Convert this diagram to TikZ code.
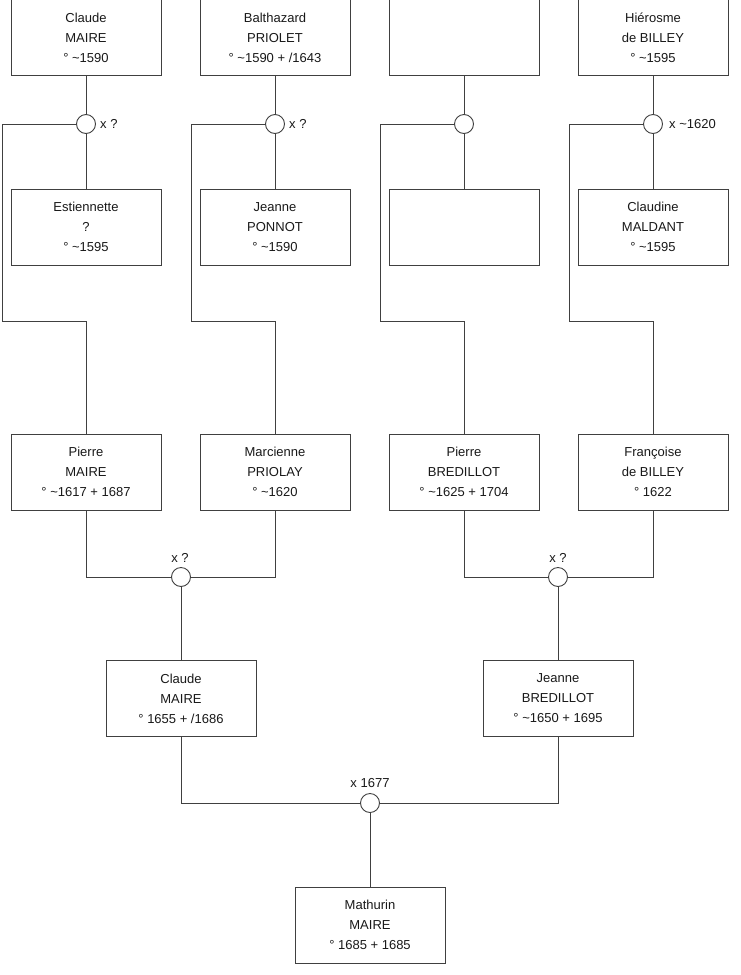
\documentclass[tikz,border=0pt]{standalone}
\usepackage{fontspec}
\setmainfont{Liberation Sans}
\newcommand{\tld}{\textasciitilde}
\begin{document}
\begin{tikzpicture}[x=1pt,y=-1pt,
 person/.style={draw=black!75, line width=0.9pt, minimum width=150pt, minimum height=76pt, align=center, font=\fontsize{13}{20}\selectfont, inner sep=0pt, text=black!90},
 union/.style={circle, draw=black!75, line width=0.9pt, minimum size=19pt, inner sep=0pt, fill=white},
 link/.style={draw=black!75, line width=0.9pt},
 lbl/.style={font=\fontsize{13}{15}\selectfont, inner sep=0pt, text=black!90}]
\useasboundingbox[fill=white] (0,0) rectangle (740,975);
% row 1
\node[person] (p1) at (86,37.5) {Claude\\MAIRE\\° \tld1590};
\node[person] (p2) at (275,37.5) {Balthazard\\PRIOLET\\° \tld1590 + /1643};
\node[person] (p3) at (464,37.5) {};
\node[person] (p4) at (653,37.5) {Hiérosme\\de BILLEY\\° \tld1595};
% unions row 1
\node[union] (u1) at (86,124) {};
\node[union] (u2) at (275,124) {};
\node[union] (u3) at (464,124) {};
\node[union] (u4) at (653,124) {};
% row 2
\node[person] (p5) at (86,227) {Estiennette\\?\\° \tld1595};
\node[person] (p6) at (275,227) {Jeanne\\PONNOT\\° \tld1590};
\node[person] (p7) at (464,227) {};
\node[person] (p8) at (653,227) {Claudine\\MALDANT\\° \tld1595};
% row 3
\node[person] (p9) at (86,472) {Pierre\\MAIRE\\° \tld1617 + 1687};
\node[person] (p10) at (275,472) {Marcienne\\PRIOLAY\\° \tld1620};
\node[person] (p11) at (464,472) {Pierre\\BREDILLOT\\° \tld1625 + 1704};
\node[person] (p12) at (653,472) {Françoise\\de BILLEY\\° 1622};
% unions row 3
\node[union] (u5) at (181,577) {};
\node[union] (u6) at (558,577) {};
% row 4
\node[person] (p13) at (181,698.5) {Claude\\MAIRE\\° 1655 + /1686};
\node[person] (p14) at (558,698.5) {Jeanne\\BREDILLOT\\° \tld1650 + 1695};
\node[union] (u7) at (370,803) {};
\node[person] (p15) at (370,925) {Mathurin\\MAIRE\\° 1685 + 1685};
% labels
\node[lbl, anchor=west] (l1) at ([xshift=4pt]u1.east) {x ?};
\node[lbl, anchor=west] (l2) at ([xshift=4pt]u2.east) {x ?};
\node[lbl, anchor=west] (l4) at ([xshift=6pt]u4.east) {x \tld1620};
\node[lbl, anchor=south] (l5) at ([xshift=-1pt,yshift=4pt]u5.north) {x ?};
\node[lbl, anchor=south] (l6) at ([yshift=4pt]u6.north) {x ?};
\node[lbl, anchor=south] (l7) at ([yshift=5pt]u7.north) {x 1677};
% corner coordinates
\coordinate (a1) at (2,124);   \coordinate (b1) at (2,321);   \coordinate (c1) at (86,321);
\coordinate (a2) at (191,124); \coordinate (b2) at (191,321); \coordinate (c2) at (275,321);
\coordinate (a3) at (380,124); \coordinate (b3) at (380,321); \coordinate (c3) at (464,321);
\coordinate (a4) at (569,124); \coordinate (b4) at (569,321); \coordinate (c4) at (653,321);
% connectors
\draw[link] (p1) -- (u1) -- (p5);
\draw[link] (p2) -- (u2) -- (p6);
\draw[link] (p3) -- (u3) -- (p7);
\draw[link] (p4) -- (u4) -- (p8);
\draw[link] (u1) -- (a1) -- (b1) -- (c1) -- (p9);
\draw[link] (u2) -- (a2) -- (b2) -- (c2) -- (p10);
\draw[link] (u3) -- (a3) -- (b3) -- (c3) -- (p11);
\draw[link] (u4) -- (a4) -- (b4) -- (c4) -- (p12);
\draw[link] (p9) |- (u5);
\draw[link] (p10) |- (u5);
\draw[link] (u5) -- (p13);
\draw[link] (p11) |- (u6);
\draw[link] (p12) |- (u6);
\draw[link] (u6) -- (p14);
\draw[link] (p13) |- (u7);
\draw[link] (p14) |- (u7);
\draw[link] (u7) -- (p15);
\end{tikzpicture}
\end{document}
